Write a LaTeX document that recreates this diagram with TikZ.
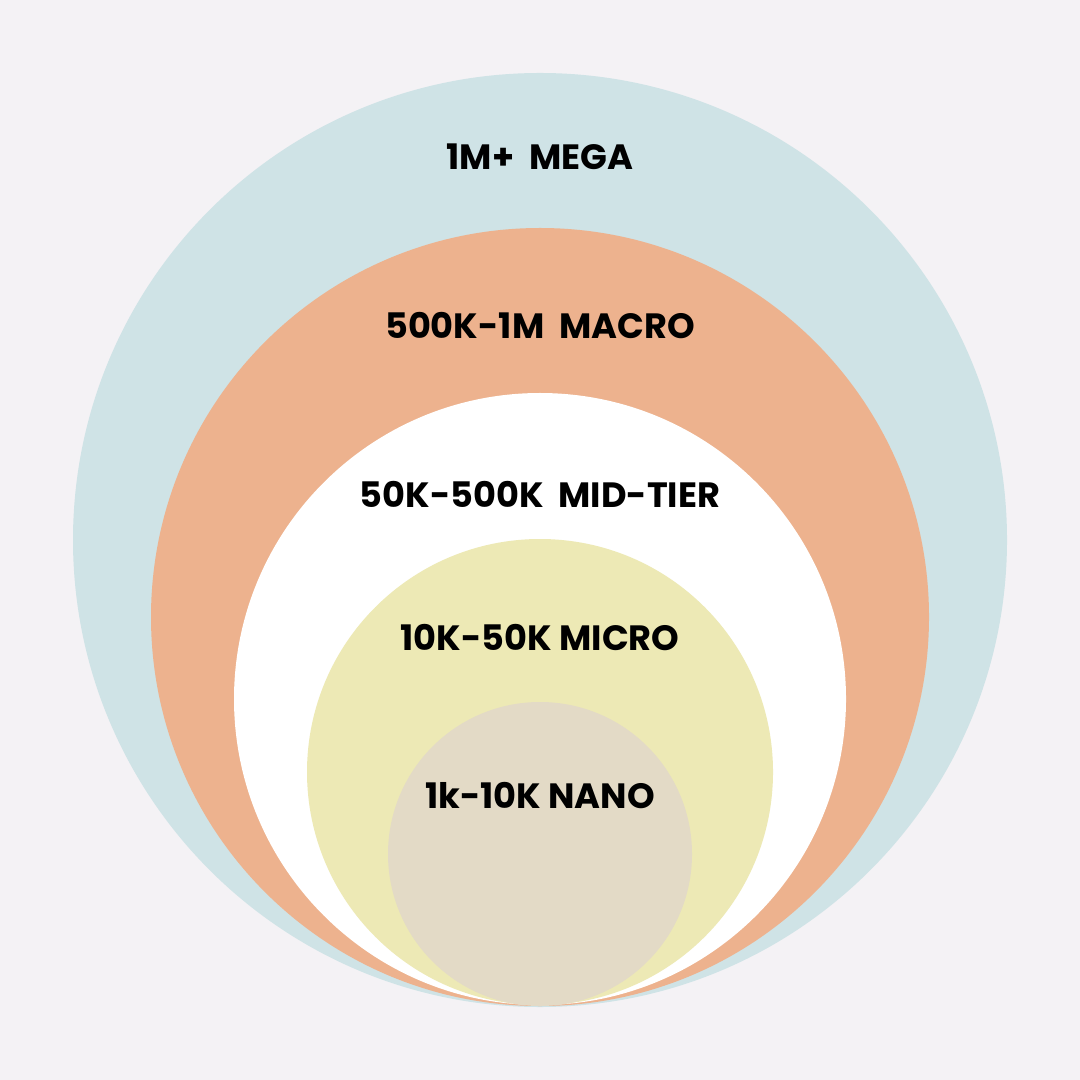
\documentclass[tikz,border=0pt]{standalone}
\usepackage{fontspec}
\setmainfont{Poppins}
\definecolor{bg}{HTML}{F4F2F5}
\definecolor{mega}{HTML}{CFE3E6}
\definecolor{macro}{HTML}{EDB28E}
\definecolor{mid}{HTML}{FFFFFF}
\definecolor{micro}{HTML}{EDE9B5}
\definecolor{nano}{HTML}{E3DAC6}
\begin{document}
\begin{tikzpicture}[x=0.01cm,y=-0.01cm,
  lbl/.style={font=\fontsize{10pt}{12pt}\selectfont\bfseries, text=black, inner sep=0pt, anchor=center}]
\fill[bg] (0,0) rectangle (1080,1080);
\useasboundingbox (0,0) rectangle (1080,1080);
\fill[mega] (540,540) circle[radius=467];
\fill[macro] (540,617) circle[radius=389];
\fill[mid] (540,699) circle[radius=306];
\fill[micro] (540,772) circle[radius=233];
\fill[nano] (540,854) circle[radius=152];
\node[lbl] (tmega) at (540,157) {1M+\ \ MEGA};
\node[lbl] (tmacro) at (540,326) {500K-1M\ \ MACRO};
\node[lbl] (tmid) at (540,494) {50K-500K\ \ MID-TIER};
\node[lbl] (tmicro) at (540,638) {10K-50K MICRO};
\node[lbl] (tnano) at (540,796) {1k-10K NANO};
\end{tikzpicture}
\end{document}
